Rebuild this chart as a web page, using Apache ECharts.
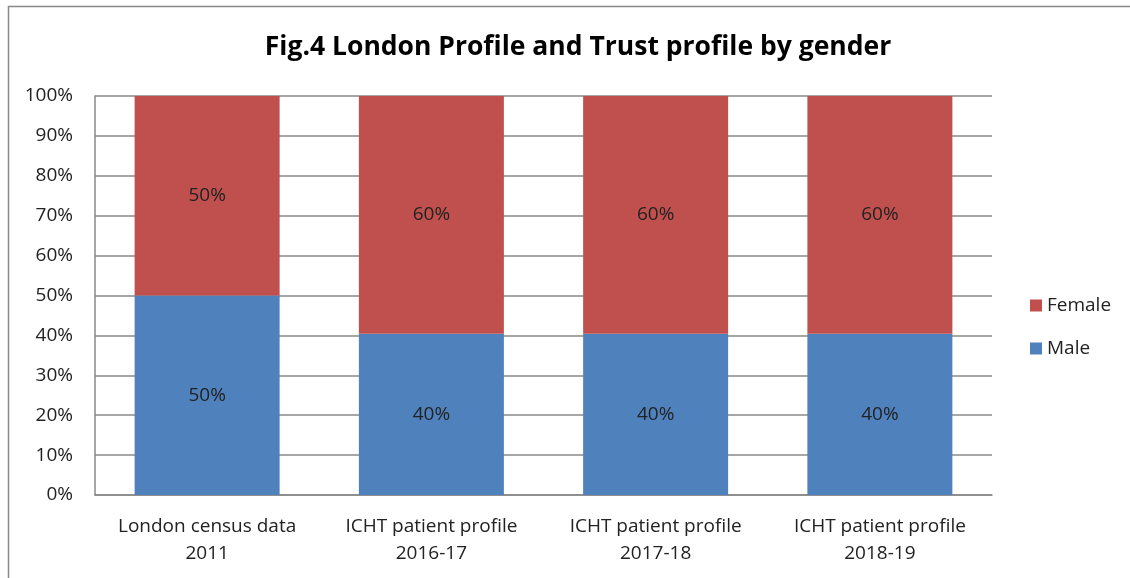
<!DOCTYPE html>
<html>
<head>
<meta charset="utf-8">
<script src="https://cdn.jsdelivr.net/npm/echarts@6/dist/echarts.min.js"></script>
<style>html,body{margin:0;padding:0;background:#fff;}#c{width:1130px;height:578px;}</style>
</head>
<body>
<div id="c"></div>
<script>
var categories = ['London census data\n2011', 'ICHT patient profile\n2016-17', 'ICHT patient profile\n2017-18', 'ICHT patient profile\n2018-19'];
var maleValues = [50, 40.4, 40.4, 40.4];
var femaleValues = [50, 59.6, 59.6, 59.6];
var yTicks = [0, 10, 20, 30, 40, 50, 60, 70, 80, 90, 100];
var titleText = 'Fig.4 London Profile and Trust profile by gender';

var FONT = 'Open Sans';
var chart = echarts.init(document.getElementById('c'));
function lbl(p){ return Math.round(p.value) + '%'; }
chart.setOption({
  animation: false,
  backgroundColor: '#fff',
  title: {
    text: titleText, left: 573, top: 29, textAlign: 'center',
    textStyle: {fontFamily: FONT, fontWeight: 'bold', fontSize: 26.5, color: '#000'}
  },
  graphic: [{type: 'rect', shape: {x: 8.5, y: 6.5, width: 1300, height: 800}, style: {fill: 'none', stroke: '#888', lineWidth: 1.5}, silent: true}],
  legend: {
    orient: 'vertical', left: 1025, top: 291, itemWidth: 12, itemHeight: 12, itemGap: 24,
    icon: 'rect',
    data: ['Female', 'Male'],
    textStyle: {fontFamily: FONT, fontSize: 19, color: '#222'}
  },
  grid: {left: 95, right: 138, top: 96, bottom: 83, containLabel: false},
  xAxis: {
    type: 'category', data: categories,
    axisLine: {lineStyle: {color: '#888', width: 1.5}},
    axisTick: {show: false},
    axisLabel: {interval: 0, fontFamily: FONT, fontSize: 19, color: '#222', lineHeight: 27, margin: 18}
  },
  yAxis: {
    type: 'value', min: yTicks[0], max: yTicks[yTicks.length-1], interval: 10,
    axisLine: {show: true, lineStyle: {color: '#888', width: 1.5}},
    axisTick: {show: false},
    splitLine: {lineStyle: {color: '#888', width: 1.5}},
    axisLabel: {fontFamily: FONT, fontSize: 19, color: '#222', margin: 22, formatter: function(v){return v + '%';}}
  },
  series: [
    {name: 'Male', type: 'bar', stack: 's', data: maleValues, barWidth: 145,
     itemStyle: {color: '#4F81BD'},
     label: {show: true, position: 'inside', formatter: lbl, fontFamily: FONT, fontSize: 19, color: '#222'}},
    {name: 'Female', type: 'bar', stack: 's', data: femaleValues, barWidth: 145,
     itemStyle: {color: '#C0504D'},
     label: {show: true, position: 'inside', formatter: lbl, fontFamily: FONT, fontSize: 19, color: '#222'}}
  ]
});
</script>
</body>
</html>
